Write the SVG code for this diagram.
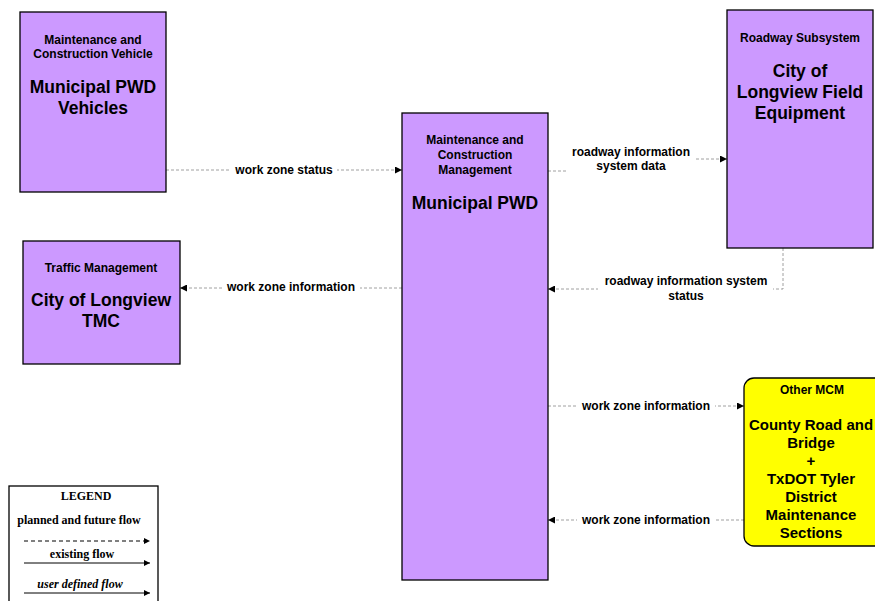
<svg xmlns="http://www.w3.org/2000/svg" width="875" height="601" viewBox="0 0 875 601">
<defs>
<marker id="ah" viewBox="0 0 10 10" refX="10" refY="5" markerWidth="7" markerHeight="7" markerUnits="userSpaceOnUse" orient="auto">
<path d="M0,0 L10,5 L0,10 z" fill="#000"/>
</marker>
<marker id="lah" viewBox="0 0 10 10" refX="10" refY="5" markerWidth="7" markerHeight="6" markerUnits="userSpaceOnUse" orient="auto">
<path d="M0,0 L10,5 L0,10 z" fill="#000"/>
</marker>
</defs>
<style>
.node{fill:#cc99ff;stroke:#000;stroke-width:1.3}
.mcm{fill:#ffff00;stroke:#000;stroke-width:1.3}
.hd{font-family:"Liberation Sans",Arial,sans-serif;font-weight:bold;font-size:12px;text-anchor:middle;fill:#000}
.nm{font-family:"Liberation Sans",Arial,sans-serif;font-weight:bold;font-size:17.5px;text-anchor:middle;fill:#000}
.nm2{font-family:"Liberation Sans",Arial,sans-serif;font-weight:bold;font-size:15px;text-anchor:middle;fill:#000}
.flow{fill:none;stroke:#888;stroke-width:0.8;stroke-dasharray:3,2;marker-end:url(#ah)}
.lbl{font-family:"Liberation Sans",Arial,sans-serif;font-weight:bold;font-size:12px;text-anchor:middle;fill:#000}
.lg{font-family:"Liberation Serif","Times New Roman",serif;font-weight:bold;font-size:12px;text-anchor:middle;fill:#000}
</style>
<rect width="875" height="601" fill="#fff"/>
<g id="connectors">
<path class="flow" d="M166,170 H402"/>
<path class="flow" d="M402,288 H180"/>
<path class="flow" d="M548,171 H580 V159 H727"/>
<path class="flow" d="M783,248 V289 H548"/>
<path class="flow" d="M548,406 H744"/>
<path class="flow" d="M744,520 H548"/>
<rect x="231" y="162" width="106" height="15" fill="#fff"/>
<text class="lbl" x="284" y="174">work zone status</text>
<rect x="222" y="280" width="138" height="15" fill="#fff"/>
<text class="lbl" x="291" y="291">work zone information</text>
<rect x="568" y="143" width="127" height="32" fill="#fff"/>
<text class="lbl" x="631" y="156">roadway information</text>
<text class="lbl" x="631" y="170">system data</text>
<rect x="598" y="273" width="175" height="30" fill="#fff"/>
<text class="lbl" x="686" y="285">roadway information system</text>
<text class="lbl" x="686" y="300">status</text>
<rect x="577" y="398" width="138" height="15" fill="#fff"/>
<text class="lbl" x="646" y="410">work zone information</text>
<rect x="577" y="512" width="138" height="15" fill="#fff"/>
<text class="lbl" x="646" y="524">work zone information</text>
</g>
<g id="vehicles">
<rect class="node" x="20" y="12" width="146" height="180"/>
<text class="hd" x="93" y="44">Maintenance and</text>
<text class="hd" x="93" y="58">Construction Vehicle</text>
<text class="nm" x="93" y="93">Municipal PWD</text>
<text class="nm" x="93" y="114">Vehicles</text>
</g>
<g id="pwd">
<rect class="node" x="402" y="113" width="146" height="467"/>
<text class="hd" x="475" y="144">Maintenance and</text>
<text class="hd" x="475" y="159">Construction</text>
<text class="hd" x="475" y="174">Management</text>
<text class="nm" x="475" y="209">Municipal PWD</text>
</g>
<g id="field">
<rect class="node" x="727" y="10" width="146" height="238"/>
<text class="hd" x="800" y="42">Roadway Subsystem</text>
<text class="nm" x="800" y="77">City of</text>
<text class="nm" x="800" y="98">Longview Field</text>
<text class="nm" x="800" y="119">Equipment</text>
</g>
<g id="tmc">
<rect class="node" x="23" y="241" width="157" height="123"/>
<text class="hd" x="101" y="272">Traffic Management</text>
<text class="nm" x="101" y="306">City of Longview</text>
<text class="nm" x="101" y="327">TMC</text>
</g>
<g id="othermcm">
<rect class="mcm" x="744" y="378" width="150" height="168" rx="10" ry="10"/>
<text class="hd" x="812" y="394">Other MCM</text>
<text class="nm2" x="811" y="430">County Road and</text>
<text class="nm2" x="811" y="448">Bridge</text>
<text class="nm2" x="811" y="466">+</text>
<text class="nm2" x="811" y="484">TxDOT Tyler</text>
<text class="nm2" x="811" y="502">District</text>
<text class="nm2" x="811" y="520">Maintenance</text>
<text class="nm2" x="811" y="538">Sections</text>
</g>
<g id="legend">
<rect x="9" y="486" width="149" height="120" fill="#fff" stroke="#000" stroke-width="1.3"/>
<text class="lg" x="86" y="500">LEGEND</text>
<text class="lg" x="79" y="524">planned and future flow</text>
<path d="M24,541 H150" stroke="#000" stroke-width="1" stroke-dasharray="4,3" fill="none" marker-end="url(#lah)"/>
<text class="lg" x="82" y="558">existing flow</text>
<path d="M24,563 H150" stroke="#000" stroke-width="1" fill="none" marker-end="url(#lah)"/>
<text class="lg" x="80" y="588" font-style="italic">user defined flow</text>
<path d="M24,593 H150" stroke="#000" stroke-width="1" fill="none" marker-end="url(#lah)"/>
</g>
</svg>
